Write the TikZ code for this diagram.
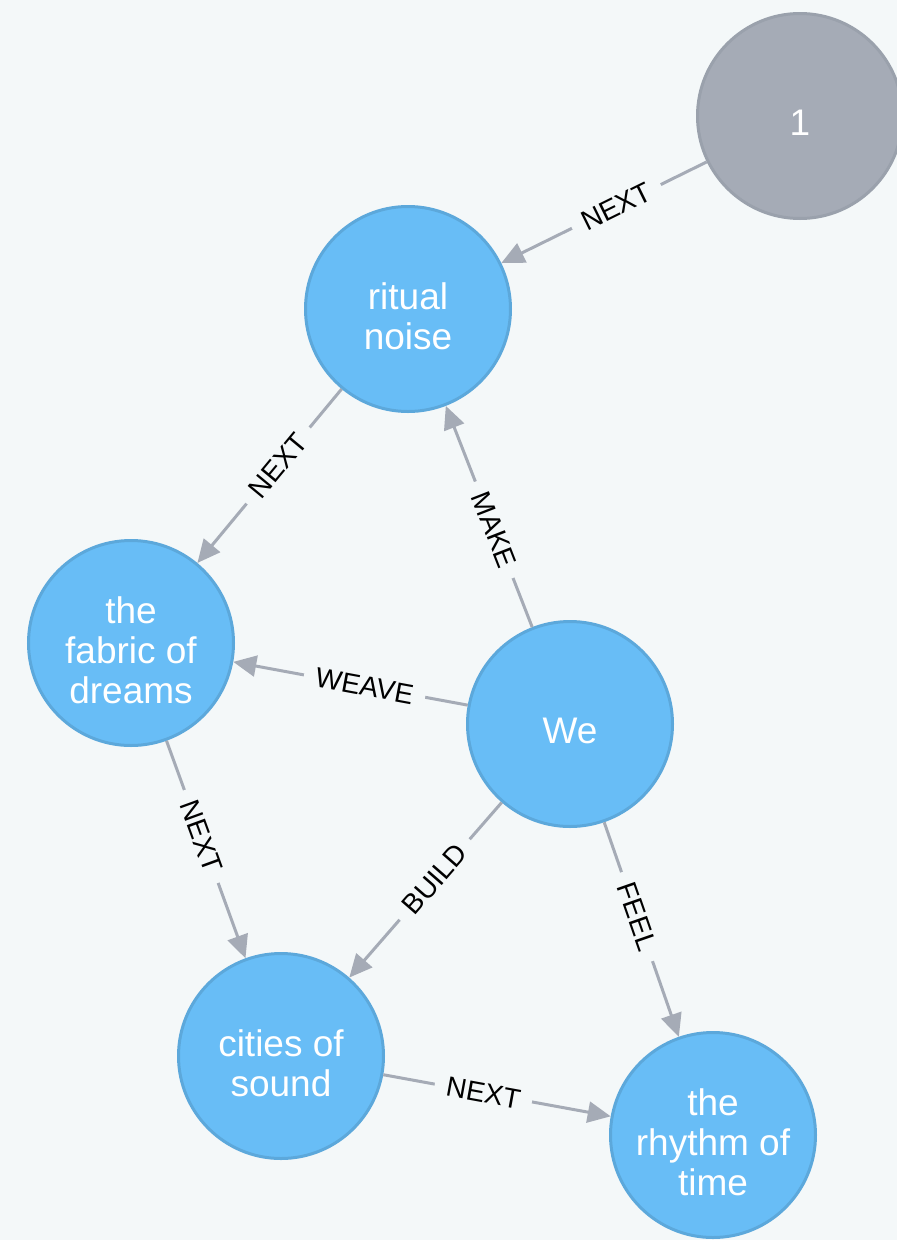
\documentclass[tikz,border=0pt]{standalone}
\usepackage{fontspec}
\setmainfont{Liberation Sans}
\usetikzlibrary{arrows.meta}
\definecolor{bg}{HTML}{F4F8F9}
\definecolor{nodeblue}{HTML}{68BDF6}
\definecolor{nodeblueline}{HTML}{5CA8DB}
\definecolor{nodegrey}{HTML}{A5ABB6}
\definecolor{nodegreyline}{HTML}{9AA1AC}
\definecolor{edgegrey}{HTML}{A5ABB6}
\begin{document}
\begin{tikzpicture}[x=1pt,y=-1pt,
  gnode/.style={circle, minimum size=205pt, inner sep=0pt, line width=3pt},
  caption/.style={label={[yshift=-7pt, text=white, align=center,
    font=\fontsize{37}{40}\selectfont]center:#1}},
  bluenode/.style={gnode, fill=nodeblue, draw=nodeblueline},
  greynode/.style={gnode, fill=nodegrey, draw=nodegreyline},
  rel/.style={draw=edgegrey, line width=3pt, -{Triangle[length=23pt,width=21pt]}},
  rellabel/.style={sloped, pos=0.44, fill=bg, text=black, inner xsep=12pt,
    inner ysep=2pt, font=\fontsize{28}{28}\selectfont}
]
\useasboundingbox[fill=bg] (0,0) rectangle (897,1240);

% graph nodes
\node[greynode, caption={1}]                    (one)    at (800,116)  {};
\node[bluenode, caption={ritual\\noise}]        (ritual) at (408,309)  {};
\node[bluenode, caption={the\\fabric of\\dreams}] (fabric) at (131,643) {};
\node[bluenode, caption={We}]                   (we)     at (570,724)  {};
\node[bluenode, caption={cities of\\sound}]     (cities) at (281,1056) {};
\node[bluenode, caption={the\\rhythm of\\time}] (rhythm) at (713,1135) {};

% relationships
\draw[rel] (one)    -- node[rellabel] {NEXT}  (ritual);
\draw[rel] (ritual) -- node[rellabel] {NEXT}  (fabric);
\draw[rel] (we)     -- node[rellabel] {MAKE}  (ritual);
\draw[rel] (we)     -- node[rellabel] {WEAVE} (fabric);
\draw[rel] (fabric) -- node[rellabel] {NEXT}  (cities);
\draw[rel] (we)     -- node[rellabel] {BUILD} (cities);
\draw[rel] (we)     -- node[rellabel] {FEEL}  (rhythm);
\draw[rel] (cities) -- node[rellabel] {NEXT}  (rhythm);
\end{tikzpicture}
\end{document}
